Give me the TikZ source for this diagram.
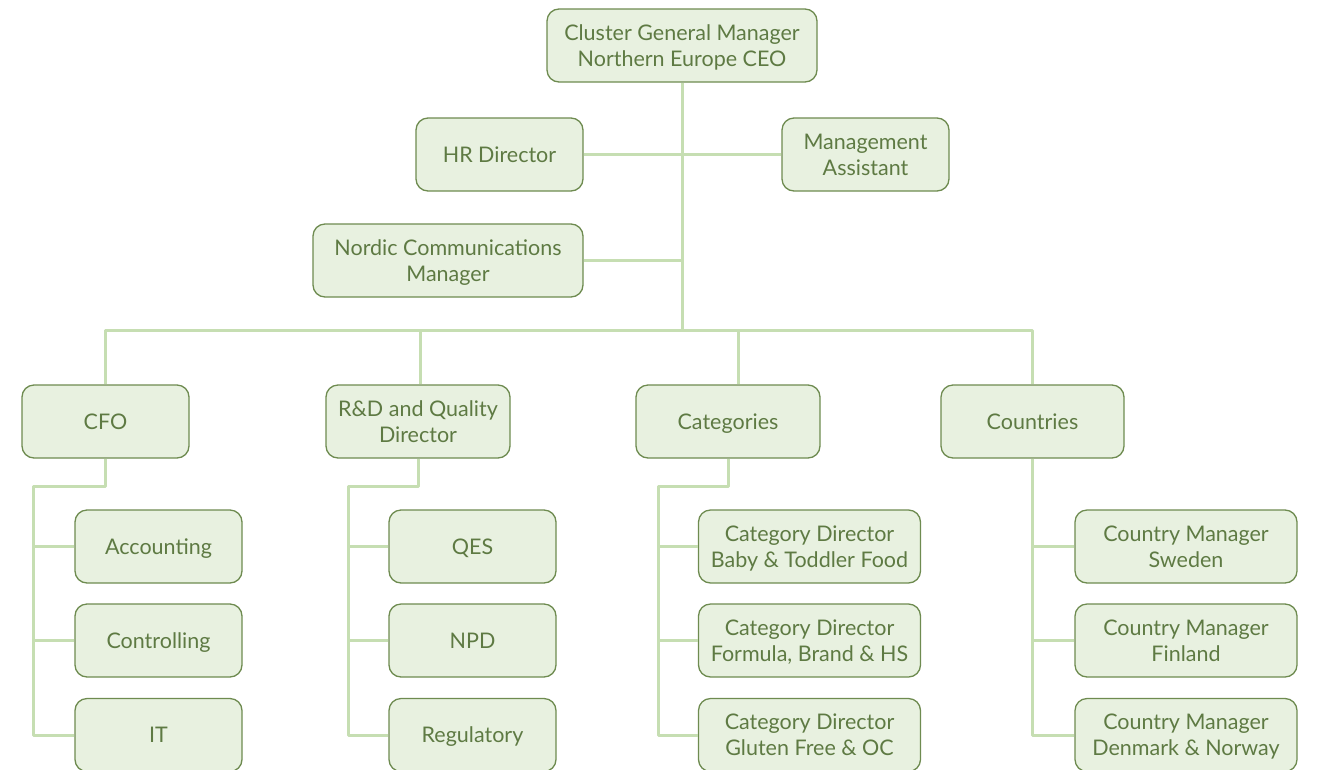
\documentclass[tikz,border=0pt]{standalone}
\usepackage{fontspec}
\setmainfont{Lato}
\usetikzlibrary{positioning,calc}

\definecolor{boxfill}{HTML}{E8F1E0}
\definecolor{boxline}{HTML}{6E8B50}
\definecolor{boxtext}{HTML}{5E7A43}
\definecolor{linkline}{HTML}{C6DEB2}

\tikzset{
	box/.style={draw=boxline, line width=1.3pt, fill=boxfill, rounded corners=12pt, align=center, text=boxtext, font=\fontsize{21.5}{26}\selectfont, text depth=-1pt, minimum height=73pt, inner sep=2pt},
	link/.style={draw=linkline, line width=3pt}
}

\begin{document}
\begin{tikzpicture}[x=1pt, y=-1pt, line join=round]

\useasboundingbox (0,0) rectangle (1341,769);

% top level
\node (ceo) at (682, 45.5) [box, minimum width=270pt] {Cluster General Manager\\Northern Europe CEO};
\node (hr) at (499.5, 154.5) [box, minimum width=167pt] {HR Director};
\node (assist) at (865.5, 154.5) [box, minimum width=167pt] {Management\\Assistant};
\node (nordic) at (448, 260.5) [box, minimum width=270pt] {Nordic Communications\\Manager};

\coordinate (bar) at (682, 330);
\draw[link] (ceo) -- (bar);
\draw[link] (hr) -- (assist);
\draw[link] (nordic) -- (nordic -| ceo);

% second level
\node (cfo) at (105.5, 421.5) [box, minimum width=167pt] {CFO};
\node (rnd) at (418, 421.5) [box, minimum width=184pt] {R\&D and Quality\\Director};
\node (categories) at (728, 421.5) [box, minimum width=184pt] {Categories};
\node (countries) at (1032.5, 421.5) [box, minimum width=183pt] {Countries};

\draw[link] (bar) -| (cfo);
\draw[link] (bar) -| ([xshift=2pt]rnd.north);
\draw[link] (bar) -| ([xshift=10pt]categories.north);
\draw[link] (bar) -| (countries);

% CFO
\node (accounting) at (158.5, 546.5) [box, minimum width=167pt] {Accounting};
\node (controlling) at (158.5, 640.5) [box, minimum width=167pt] {Controlling};
\node (it) at (158.5, 735) [box, minimum width=167pt] {IT};

\coordinate (cfobend) at (33, 486);
\draw[link] (cfo) |- (cfobend) |- (it);
\draw[link] (cfobend |- accounting) -- (accounting);
\draw[link] (cfobend |- controlling) -- (controlling);

% R&D
\node (qes) at (472.5, 546.5) [box, minimum width=167pt] {QES};
\node (npd) at (472.5, 640.5) [box, minimum width=167pt] {NPD};
\node (regulatory) at (472.5, 735) [box, minimum width=167pt] {Regulatory};

\coordinate (rndbend) at (348, 486);
\draw[link] (rnd) |- (rndbend) |- (regulatory);
\draw[link] (rndbend |- qes) -- (qes);
\draw[link] (rndbend |- npd) -- (npd);

% categories
\node (baby) at (809.5, 546.5) [box, minimum width=222pt] {Category Director\\Baby \& Toddler Food};
\node (formula) at (809.5, 640.5) [box, minimum width=222pt] {Category Director\\Formula, Brand \& HS};
\node (gluten) at (809.5, 735) [box, minimum width=222pt] {Category Director\\Gluten Free \& OC};

\coordinate (catbend) at (658, 486);
\draw[link] (categories) |- (catbend) |- (gluten);
\draw[link] (catbend |- baby) -- (baby);
\draw[link] (catbend |- formula) -- (formula);

% countries
\node (sweden) at (1186, 546.5) [box, minimum width=222pt] {Country Manager\\Sweden};
\node (finland) at (1186, 640.5) [box, minimum width=222pt] {Country Manager\\Finland};
\node (denmark) at (1186, 735) [box, minimum width=222pt] {Country Manager\\Denmark \& Norway};

\draw[link] (countries) |- (denmark);
\draw[link] (countries |- sweden) -- (sweden);
\draw[link] (countries |- finland) -- (finland);

\end{tikzpicture}
\end{document}
